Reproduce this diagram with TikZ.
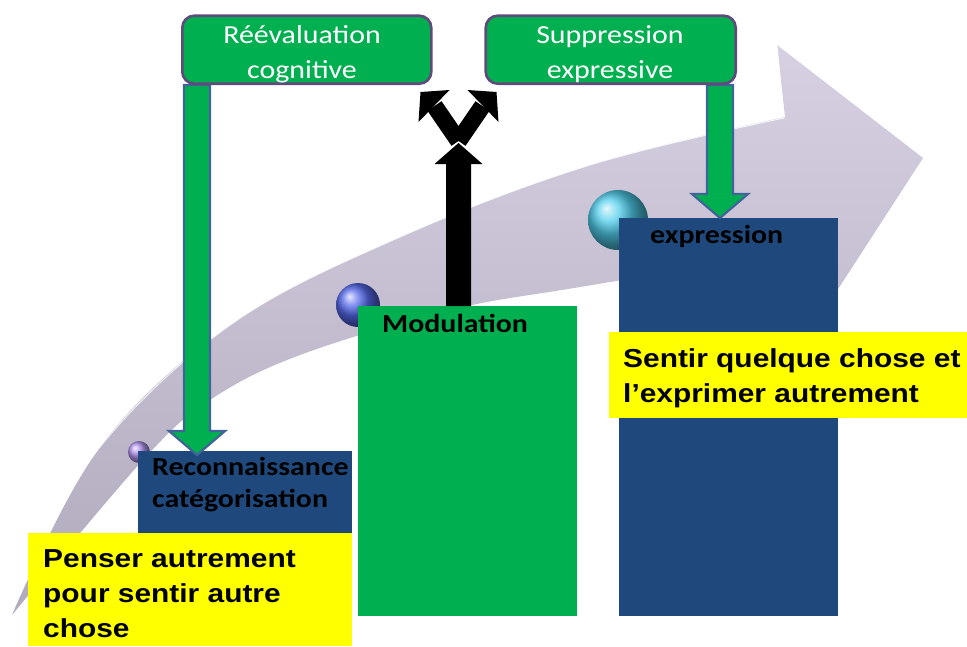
\documentclass[tikz,border=0pt]{standalone}
\usepackage{fontspec}
\newfontfamily\calib[FakeStretch=1.15]{Carlito}
\newfontfamily\arialf[FakeStretch=1.15]{Liberation Sans}
\usetikzlibrary{calc}
\definecolor{pgreen}{RGB}{0,176,80}
\definecolor{pborder}{RGB}{96,74,123}
\definecolor{pblue}{RGB}{31,73,125}
\definecolor{pyellow}{RGB}{255,255,0}
\definecolor{aborder}{RGB}{64,100,152}
\definecolor{bandtop}{RGB}{214,208,226}
\definecolor{bandbot}{RGB}{176,170,188}
\definecolor{sphpurple}{RGB}{175,145,235}
\definecolor{sphblue}{RGB}{85,105,235}
\definecolor{sphcyan}{RGB}{80,205,235}
\newcommand{\fatdown}[2]{%
  \draw[fatarrow] ($(#1)+(-13,0)$) -- ($(#2)+(-13,-24)$) -- ($(#2)+(-28,-24)$) -- (#2)
    -- ($(#2)+(28,-24)$) -- ($(#2)+(13,-24)$) -- ($(#1)+(13,0)$) -- cycle;}
\tikzset{
  topbox/.style={draw=pborder, line width=2.6pt, fill=pgreen, rounded corners=12pt, inner sep=0pt},
  plainbox/.style={inner sep=0pt, outer sep=0pt},
  fatarrow/.style={draw=aborder, line width=2.2pt, fill=pgreen, line join=miter},
  toptext/.style={text=white, font=\calib\fontsize{26}{35}\selectfont, align=center, inner sep=0pt},
  boxtext/.style={text=black, font=\calib\bfseries\fontsize{26}{32}\selectfont, align=left, inner sep=0pt},
  yeltext/.style={text=black, font=\arialf\bfseries\fontsize{26}{35}\selectfont, align=left, inner sep=0pt},
}
\begin{document}
\begin{tikzpicture}[x=1pt,y=-1pt]
\useasboundingbox (0,0) rectangle (967,646);
\fill[white] (0,0) rectangle (967,646);
% big curved arrow
\shade[top color=bandtop, bottom color=bandbot]
  plot[smooth, tension=0.6] coordinates {(12,615) (100,447) (233,323) (400,237) (590,165) (785,117)}
  -- (777,45) -- (923,158) -- (818,320) -- (808,250)
  -- plot[smooth, tension=0.6] coordinates {(808,250) (580,287) (450,310) (300,355) (210,400) (143,460) (12,615)}
  -- cycle;
\draw[white, line width=1pt, opacity=0.8]
  plot[smooth, tension=0.6] coordinates {(30,575) (100,447) (233,323) (400,237) (590,165) (784,118)}
  -- (777,46);
% spheres
\shade[ball color=sphpurple] (139,452) circle (11);
\shade[ball color=sphblue] (358,305) circle (22);
\shade[ball color=sphcyan] (618,220) circle (30);
% boxes
\node[plainbox, fill=pblue, minimum width=214pt, minimum height=90pt, anchor=north west] (recog) at (138,451) {};
\node[plainbox, fill=pgreen, minimum width=219pt, minimum height=310pt, anchor=north west] (modul) at (358,306) {};
\node[plainbox, fill=pblue, minimum width=219pt, minimum height=398pt, anchor=north west] (expr) at (619,218) {};
\node[plainbox, fill=pyellow, minimum width=324pt, minimum height=113pt, anchor=north west] (yleft) at (28,533) {};
\node[plainbox, fill=pyellow, minimum width=358pt, minimum height=86pt, anchor=north west] (yright) at (609,332) {};
% box texts (base anchor = baseline of last line)
\node[boxtext, anchor=base west] (recogt) at (152,507) {Reconnaissance\\catégorisation};
\node[boxtext, anchor=base west] (modult) at (382,332) {Modulation};
\node[boxtext, anchor=base west] (exprt) at (650,243) {expression};
\node[yeltext, anchor=base west] (ylt) at (43,637) {Penser autrement\\pour sentir autre\\chose};
\node[yeltext, anchor=base west] (yrt) at (623,402) {Sentir quelque chose et\\l’exprimer autrement};
% top boxes geometry (coordinates for connectors)
\coordinate (reevalSW) at (181,85);
\coordinate (supprSE) at (737,85);
% green fat arrows
\coordinate (t1) at ([xshift=16pt]reevalSW);
\coordinate (h1) at ($(t1 |- recog.north)+(0,4)$);
\fatdown{t1}{h1}
\coordinate (t2) at ([xshift=-17pt]supprSE);
\coordinate (h2) at (t2 |- expr.north);
\fatdown{t2}{h2}
% top boxes
\node[topbox, minimum width=249pt, minimum height=68pt, anchor=south west] (reeval) at (reevalSW) {};
\node[topbox, minimum width=250pt, minimum height=68pt, anchor=south east] (suppr) at (supprSE) {};
\node[toptext, anchor=base] (reevalt) at (302,78) {Réévaluation\\cognitive};
\node[toptext, anchor=base] (supprt) at (610,78) {Suppression\\expressive};
% black split arrow
\coordinate (b0) at ([xshift=-9pt]modul.north);
\coordinate (bx) at ($(b0)+(0,-163)$);
\coordinate (bl) at ($(bx)+(-24,-37)$);
\coordinate (br) at ($(bx)+(24,-37)$);
\fill[black] ($(b0)+(-12.5,0)$) -- ($(b0)+(-12.5,-142)$) -- ($(b0)+(-24,-142)$) -- (bx)
  -- ($(b0)+(24,-142)$) -- ($(b0)+(12.5,-142)$) -- ($(b0)+(12.5,0)$) -- cycle;
\draw[black, line width=17pt] ($(bx)+(0,-2)$) -- (bl);
\draw[black, line width=17pt] ($(bx)+(0,-2)$) -- (br);
\fill[black] ($(bl)+(15,-16)$) -- ($(bl)+(-14,-14)$) -- ($(bl)+(-16,16)$) -- cycle;
\fill[black] ($(br)+(-15,-16)$) -- ($(br)+(14,-14)$) -- ($(br)+(16,16)$) -- cycle;
\end{tikzpicture}
\end{document}
